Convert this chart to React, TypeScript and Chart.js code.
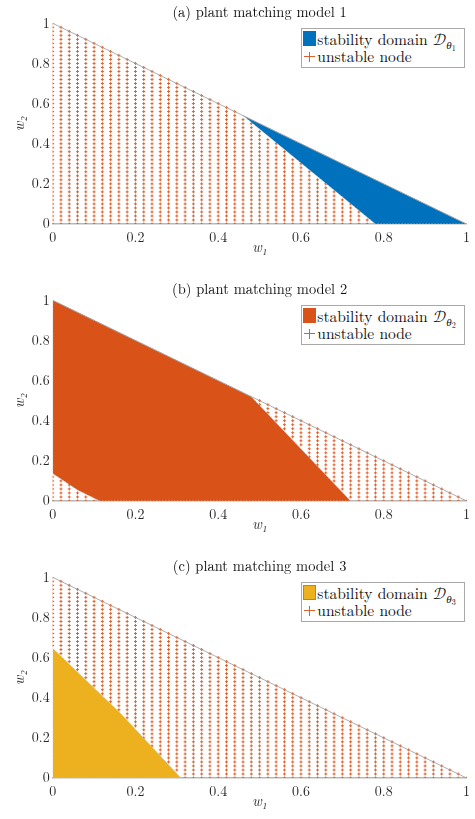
import React, { useEffect, useRef } from 'react';
import Chart from 'chart.js/auto';

// grid of nodes on the simplex w1 + w2 <= 1 (step 0.02)
const W_NODES = [
  0, 0.02, 0.04, 0.06, 0.08, 0.1, 0.12, 0.14, 0.16, 0.18, 0.2, 0.22, 0.24, 0.26, 0.28, 0.3, 0.32,
  0.34, 0.36, 0.38, 0.4, 0.42, 0.44, 0.46, 0.48, 0.5, 0.52, 0.54, 0.56, 0.58, 0.6, 0.62, 0.64,
  0.66, 0.68, 0.7, 0.72, 0.74, 0.76, 0.78, 0.8, 0.82, 0.84, 0.86, 0.88, 0.9, 0.92, 0.94, 0.96,
  0.98, 1,
];
const TICKS = [0, 0.2, 0.4, 0.6, 0.8, 1];

// simplex edge
const EDGE_W1 = [0, 1];
const EDGE_W2 = [1, 0];

// stability domains (outline vertices)
const DOMAIN_A_W1 = [0.46, 1, 0.78];
const DOMAIN_A_W2 = [0.54, 0, 0];
const DOMAIN_B_W1 = [0, 0.48, 0.72, 0.114, 0.06, 0];
const DOMAIN_B_W2 = [1, 0.52, 0, 0, 0.055, 0.137];
const DOMAIN_C_W1 = [0, 0, 0.165, 0.31];
const DOMAIN_C_W2 = [0, 0.647, 0.32, 0];

const FONT = "'Latin Modern Roman', 'Liberation Serif', serif";
const MATH_FONT = "'Latin Modern Math', FreeSerif, serif";
const CROSS_COLOR = '#E0602C';

const insidePolygon = (x: number, y: number, px: number[], py: number[]) => {
  let c = false;
  for (let i = 0, j = px.length - 1; i < px.length; j = i++) {
    const dx = px[i] - px[j];
    const dy = py[i] - py[j];
    const len2 = dx * dx + dy * dy;
    const cr = (x - px[j]) * dy - (y - py[j]) * dx;
    const dot = (x - px[j]) * dx + (y - py[j]) * dy;
    if (Math.abs(cr) < 1e-6 * Math.sqrt(len2) && dot >= -1e-9 && dot <= len2 + 1e-9) return true;
    if ((py[i] > y) !== (py[j] > y) && x < ((px[j] - px[i]) * (y - py[i])) / (py[j] - py[i]) + px[i]) {
      c = !c;
    }
  }
  return c;
};

interface PanelProps {
  title: string;
  color: string;
  domainW1: number[];
  domainW2: number[];
  index: string;
  top: number;
  swatchBorder?: string;
}

const Panel: React.FC<PanelProps> = ({ title, color, domainW1, domainW2, index, top, swatchBorder }) => {
  const chartRef = useRef<HTMLCanvasElement>(null);
  const chartInstance = useRef<Chart | null>(null);

  useEffect(() => {
    if (!chartRef.current) return;
    if (chartInstance.current) chartInstance.current.destroy();

    const unstable: { x: number; y: number }[] = [];
    W_NODES.forEach((w1) => {
      W_NODES.forEach((w2) => {
        if (w1 + w2 > 1 + 1e-9) return;
        if (!insidePolygon(w1, w2, domainW1, domainW2)) unstable.push({ x: w1, y: w2 });
      });
    });

    const domain = domainW1.map((x, i) => ({ x, y: domainW2[i] }));
    domain.push({ ...domain[0] });
    const edge = EDGE_W1.map((x, i) => ({ x, y: EDGE_W2[i] }));

    const tickFont = { family: FONT, size: 14 };

    chartInstance.current = new Chart(chartRef.current, {
      type: 'scatter',
      data: {
        datasets: [
          {
            data: edge,
            showLine: true,
            borderColor: '#9a9a9a',
            borderWidth: 0.8,
            pointRadius: 0,
          },
          {
            data: domain,
            showLine: true,
            borderWidth: 0.8,
            borderColor: '#c4c4c4',
            borderDash: [1.5, 1.5],
            backgroundColor: color,
            fill: 'shape',
            pointRadius: 0,
            tension: 0,
          },
          {
            data: unstable,
            pointStyle: 'cross',
            pointRadius: 1.5,
            borderWidth: 1,
            borderColor: CROSS_COLOR,
            backgroundColor: CROSS_COLOR,
          },
        ],
      } as any,
      options: {
        animation: false,
        responsive: true,
        maintainAspectRatio: false,
        layout: { padding: { left: 0, right: 6, top: 0, bottom: 0 } },
        plugins: {
          legend: { display: false },
          tooltip: { enabled: false },
          title: {
            display: true,
            text: title,
            fullSize: false,
            color: '#111',
            font: { family: FONT, size: 14.5, weight: 'normal', lineHeight: 1.2 },
            padding: { top: 3.6, bottom: 2.3 },
          },
        },
        scales: {
          x: {
            type: 'linear',
            min: 0,
            max: 1,
            afterBuildTicks: (scale: any) => {
              scale.ticks = TICKS.map((value) => ({ value }));
            },
            afterFit: (scale: any) => {
              scale.height = 41;
            },
            ticks: { font: tickFont, color: '#262626', padding: 5, maxRotation: 0, callback: (v: any) => String(v) },
            grid: { display: true, drawOnChartArea: false, drawTicks: false },
            border: { display: true, color: '#b8b8b8', width: 1.6 },
            title: {
              display: true,
              text: 'w₁',
              color: '#262626',
              font: { family: FONT, size: 14.5, style: 'italic' },
              padding: { top: 0, bottom: 8.5 },
            },
          },
          y: {
            type: 'linear',
            min: 0,
            max: 1,
            afterBuildTicks: (scale: any) => {
              scale.ticks = TICKS.map((value) => ({ value }));
            },
            afterFit: (scale: any) => {
              scale.width = 52.7;
            },
            ticks: { font: tickFont, color: '#262626', padding: 3, callback: (v: any) => String(v) },
            grid: { display: true, drawOnChartArea: false, drawTicks: false },
            border: { display: false },
            title: {
              display: true,
              text: 'w₂',
              color: '#262626',
              font: { family: FONT, size: 14.5, style: 'italic' },
              padding: { top: 11, bottom: 0 },
            },
          },
        },
      } as any,
    });

    return () => {
      if (chartInstance.current) {
        chartInstance.current.destroy();
        chartInstance.current = null;
      }
    };
  }, [title, color, domainW1, domainW2]);

  return (
    <div style={{ position: 'absolute', left: 0, top, width: 475, height: 265 }}>
      <div style={{ position: 'relative', width: 475, height: 265 }}>
        <canvas ref={chartRef}></canvas>
      </div>
      <div
        style={{
          position: 'absolute',
          left: 301,
          top: 28,
          width: 164,
          height: 40,
          boxSizing: 'border-box',
          border: '1px solid #a8a8a8',
          background: '#fff',
          fontFamily: FONT,
          fontSize: 15.5,
          color: '#111',
        }}
      >
        <div
          style={{
            position: 'absolute',
            left: 0.7,
            top: 2,
            width: 13.3,
            height: 15,
            boxSizing: 'border-box',
            background: color,
            border: swatchBorder ? `1px solid ${swatchBorder}` : 'none',
          }}
        />
        <div style={{ position: 'absolute', left: 15.3, top: 2, lineHeight: '16px', whiteSpace: 'nowrap' }}>
          stability domain{' '}
          <span style={{ fontFamily: MATH_FONT, fontSize: 15.5 }}>𝒟</span>
          <span style={{ fontStyle: 'italic', fontSize: 11, position: 'relative', top: 4 }}>
            θ<span style={{ fontStyle: 'normal', fontSize: 8, position: 'relative', top: 2 }}>{index}</span>
          </span>
        </div>
        <div style={{ position: 'absolute', left: 2, top: 27, width: 11, height: 1.3, background: CROSS_COLOR }} />
        <div style={{ position: 'absolute', left: 6.9, top: 22.5, width: 1.3, height: 10, background: CROSS_COLOR }} />
        <div style={{ position: 'absolute', left: 15.3, top: 18.8, lineHeight: '16px', whiteSpace: 'nowrap' }}>
          unstable node
        </div>
      </div>
    </div>
  );
};

const App: React.FC = () => {
  return (
    <div style={{ position: 'absolute', left: 0, top: 0, width: 475, height: 819, background: '#fff' }}>
      <Panel
        title="(a) plant matching model 1"
        color="#0072BD"
        domainW1={DOMAIN_A_W1}
        domainW2={DOMAIN_A_W2}
        index="1"
        top={0}
      />
      <Panel
        title="(b) plant matching model 2"
        color="#D95319"
        domainW1={DOMAIN_B_W1}
        domainW2={DOMAIN_B_W2}
        index="2"
        top={277}
      />
      <Panel
        title="(c) plant matching model 3"
        color="#EDB120"
        domainW1={DOMAIN_C_W1}
        domainW2={DOMAIN_C_W2}
        index="3"
        top={554}
        swatchBorder="#b08a2a"
      />
    </div>
  );
};

export default App;
